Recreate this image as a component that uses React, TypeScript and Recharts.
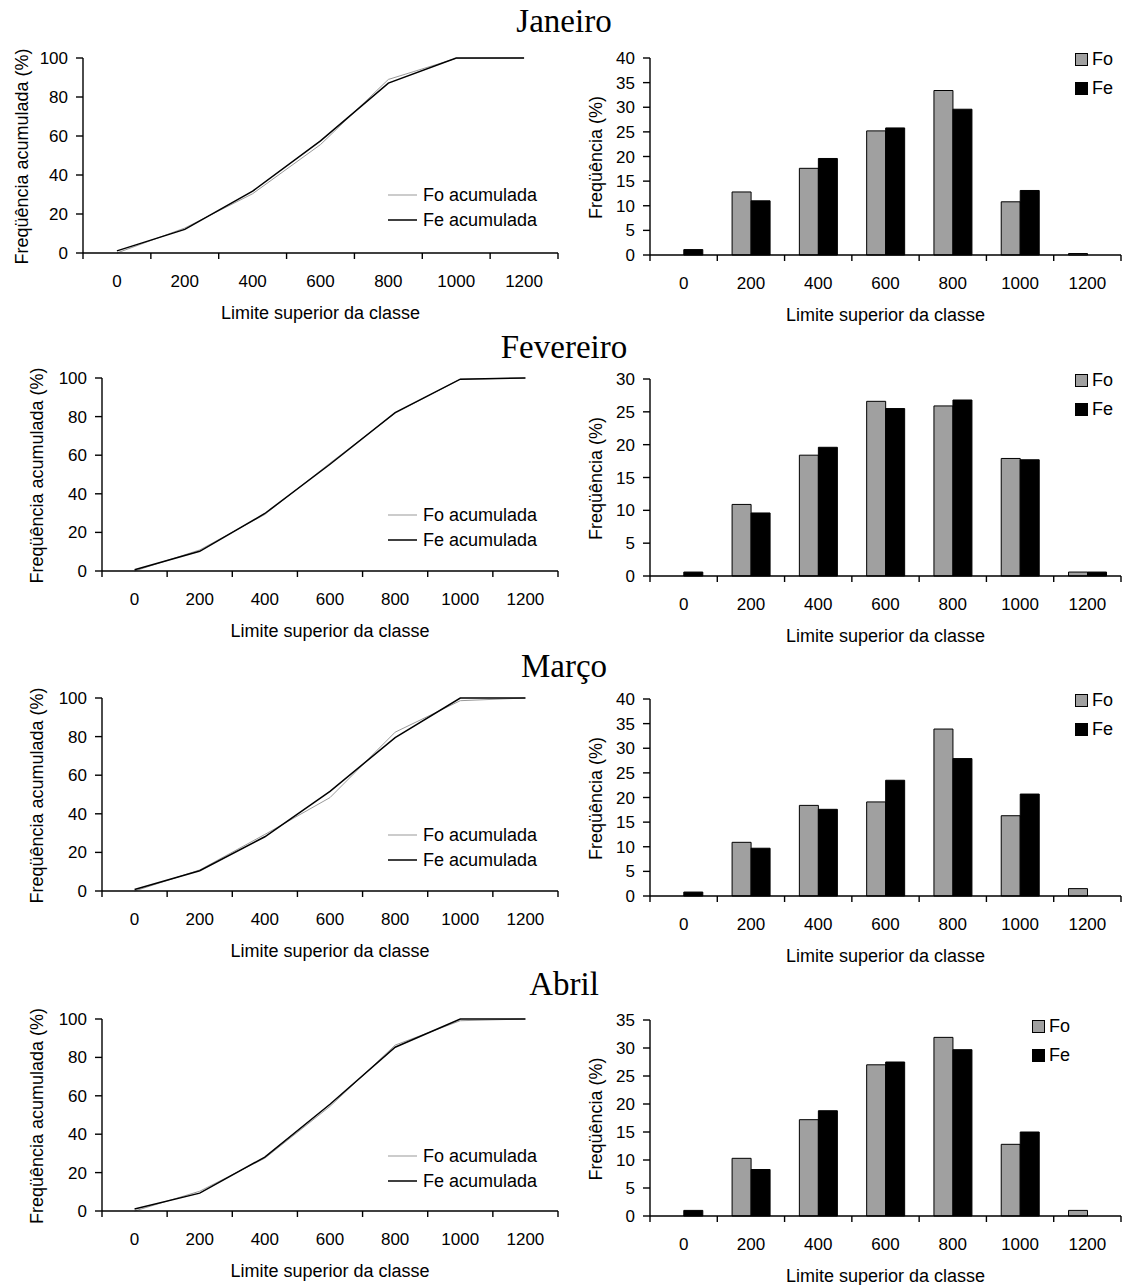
import React from 'react';
import { ComposedChart, Line, Bar, XAxis, YAxis, Legend } from 'recharts';

const CATS = ['0', '200', '400', '600', '800', '1000', '1200'];

// frequências por classe (%)
const janFo = [0, 12.8, 17.6, 25.2, 33.4, 10.8, 0.3];
const janFe = [1.1, 11.0, 19.6, 25.8, 29.6, 13.1, 0];
const fevFo = [0, 10.9, 18.4, 26.6, 25.9, 17.9, 0.6];
const fevFe = [0.6, 9.6, 19.6, 25.5, 26.8, 17.7, 0.6];
const marFo = [0, 10.9, 18.4, 19.1, 33.9, 16.3, 1.5];
const marFe = [0.8, 9.7, 17.6, 23.5, 27.9, 20.7, 0];
const abrFo = [0, 10.3, 17.2, 27.0, 31.9, 12.8, 1.0];
const abrFe = [1.0, 8.3, 18.8, 27.5, 29.7, 15.0, 0];

// frequências acumuladas (%)
const janFoAcum = [0, 12.8, 30.4, 55.6, 89.0, 99.8, 100];
const janFeAcum = [1.1, 12.1, 31.7, 57.5, 87.1, 100, 100];
const fevFoAcum = [0, 10.9, 29.3, 55.9, 81.8, 99.4, 100];
const fevFeAcum = [0.6, 10.2, 29.8, 55.3, 82.1, 99.4, 100];
const marFoAcum = [0, 10.9, 29.3, 48.4, 82.3, 98.6, 100];
const marFeAcum = [0.8, 10.5, 28.1, 51.6, 79.5, 100, 100];
const abrFoAcum = [0, 10.3, 27.5, 54.5, 86.4, 99.1, 100];
const abrFeAcum = [1.0, 9.3, 28.1, 55.6, 85.3, 100, 100];

const TICKS_100 = [0, 20, 40, 60, 80, 100];
const TICKS_40 = [0, 5, 10, 15, 20, 25, 30, 35, 40];
const TICKS_35 = [0, 5, 10, 15, 20, 25, 30, 35];
const TICKS_30 = [0, 5, 10, 15, 20, 25, 30];

const MONTHS = ['Janeiro', 'Fevereiro', 'Março', 'Abril'];

const FONT = '"Liberation Sans", Arial, sans-serif';
const SERIF = '"Liberation Serif", "Times New Roman", serif';
const MT = 10;
const XH = 72;
const AXIS = { stroke: '#000', strokeWidth: 1.4 };

const makeTick = (bw: number, n: number) => (props: any) => {
  const { x, y, payload } = props;
  const i = payload?.index ?? props.index;
  return (
    <g>
      <line x1={x - bw / 2} x2={x - bw / 2} y1={y} y2={y + 6} stroke="#000" strokeWidth={1.4} />
      {i === n - 1 && (
        <line x1={x + bw / 2} x2={x + bw / 2} y1={y} y2={y + 6} stroke="#000" strokeWidth={1.4} />
      )}
      <text x={x} y={y + 34} textAnchor="middle" fontSize={17} fill="#000" fontFamily={FONT}>
        {payload.value}
      </text>
    </g>
  );
};

const yTitle = (text: string, x: number, y: number) => () => (
  <text
    x={x}
    y={y}
    transform={`rotate(-90 ${x} ${y})`}
    textAnchor="middle"
    dominantBaseline="central"
    fontSize={18}
    fill="#000"
    fontFamily={FONT}
  >
    {text}
  </text>
);

const xTitle = (x: number, y: number) => () => (
  <text x={x} y={y} textAnchor="middle" fontSize={18} fill="#000" fontFamily={FONT}>
    Limite superior da classe
  </text>
);

const LineLegend = () => (
  <div style={{ fontFamily: FONT, fontSize: 18, color: '#000' }}>
    {[
      { t: 'Fo acumulada', c: '#999', w: 1 },
      { t: 'Fe acumulada', c: '#000', w: 1.5 },
    ].map((r) => (
      <div key={r.t} style={{ display: 'flex', alignItems: 'center', height: 25 }}>
        <svg width={29} height={4}>
          <line x1={0} x2={29} y1={2} y2={2} stroke={r.c} strokeWidth={r.w} />
        </svg>
        <span style={{ marginLeft: 6, lineHeight: '25px', whiteSpace: 'nowrap' }}>{r.t}</span>
      </div>
    ))}
  </div>
);

const BarLegend = () => (
  <div style={{ fontFamily: FONT, fontSize: 18, color: '#000' }}>
    {[
      { t: 'Fo', c: '#a0a0a0' },
      { t: 'Fe', c: '#000' },
    ].map((r) => (
      <div key={r.t} style={{ display: 'flex', alignItems: 'center', height: 29 }}>
        <div style={{ width: 11, height: 11, background: r.c, border: '1px solid #000' }} />
        <span style={{ marginLeft: 4, lineHeight: '29px' }}>{r.t}</span>
      </div>
    ))}
  </div>
);

const LINE_LAYOUT = [
  { plotTop: 58, plotBottom: 253, axisX: 83, yLabelX: 22 },
  { plotTop: 378, plotBottom: 571, axisX: 102, yLabelX: 37 },
  { plotTop: 698, plotBottom: 891, axisX: 102, yLabelX: 37 },
  { plotTop: 1019, plotBottom: 1211, axisX: 102, yLabelX: 37 },
];

const BAR_LAYOUT = [
  { plotTop: 58, plotBottom: 255, legLeft: 511, legDy: 1 },
  { plotTop: 379, plotBottom: 576, legLeft: 511, legDy: 1 },
  { plotTop: 699, plotBottom: 896, legLeft: 511, legDy: 1 },
  { plotTop: 1020, plotBottom: 1216, legLeft: 468, legDy: 6 },
];

const TITLE_TOPS = [5, 331, 650, 968];

const CumChart = ({ fo, fe, lay }: any) => {
  const W = 564;
  const plotRight = 558;
  const plotH = lay.plotBottom - lay.plotTop;
  const bw = (plotRight - lay.axisX) / CATS.length;
  const data = CATS.map((c, i) => ({ cat: c, fo: fo[i], fe: fe[i] }));
  return (
    <div style={{ position: 'absolute', left: 0, top: lay.plotTop - MT }}>
      <ComposedChart
        width={W}
        height={MT + plotH + XH}
        data={data}
        margin={{ top: MT, right: W - plotRight, bottom: 0, left: 0 }}
      >
        <XAxis
          dataKey="cat"
          scale="band"
          interval={0}
          height={XH}
          tickSize={0}
          tickMargin={0}
          tickLine={false}
          axisLine={AXIS}
          tick={makeTick(bw, CATS.length)}
          label={xTitle((lay.axisX + plotRight) / 2, MT + plotH + 66)}
        />
        <YAxis
          width={lay.axisX}
          domain={[0, 100]}
          ticks={TICKS_100}
          interval={0}
          tickSize={7}
          tickMargin={8}
          axisLine={AXIS}
          tickLine={{ stroke: '#000', strokeWidth: 1.4 }}
          tick={{ fontSize: 17, fill: '#000', fontFamily: FONT }}
          label={yTitle('Freqüência acumulada (%)', lay.yLabelX, MT + plotH / 2 + 1)}
        />
        <Line type="linear" dataKey="fo" stroke="#999" strokeWidth={1} dot={false} isAnimationActive={false} />
        <Line type="linear" dataKey="fe" stroke="#000" strokeWidth={1.5} dot={false} isAnimationActive={false} />
        <Legend
          layout="horizontal"
          verticalAlign="middle"
          align="center"
          wrapperStyle={{ left: 388, top: MT + 137 - 12.5, width: 170 }}
          content={LineLegend}
        />
      </ComposedChart>
    </div>
  );
};

const FreqChart = ({ fo, fe, yTicks, lay }: any) => {
  const W = 564;
  const plotLeft = 86;
  const plotRight = 557;
  const plotH = lay.plotBottom - lay.plotTop;
  const bw = (plotRight - plotLeft) / CATS.length;
  const data = CATS.map((c, i) => ({ cat: c, fo: fo[i], fe: fe[i] }));
  return (
    <div style={{ position: 'absolute', left: 564, top: lay.plotTop - MT }}>
      <ComposedChart
        width={W}
        height={MT + plotH + XH}
        data={data}
        barCategoryGap="22%"
        barGap={0}
        margin={{ top: MT, right: W - plotRight, bottom: 0, left: 0 }}
      >
        <XAxis
          dataKey="cat"
          interval={0}
          height={XH}
          tickSize={0}
          tickMargin={0}
          tickLine={false}
          axisLine={AXIS}
          tick={makeTick(bw, CATS.length)}
          label={xTitle((plotLeft + plotRight) / 2, MT + plotH + 66)}
        />
        <YAxis
          width={plotLeft}
          domain={[0, yTicks[yTicks.length - 1]]}
          ticks={yTicks}
          interval={0}
          tickSize={7}
          tickMargin={8}
          axisLine={AXIS}
          tickLine={{ stroke: '#000', strokeWidth: 1.4 }}
          tick={{ fontSize: 17, fill: '#000', fontFamily: FONT }}
          label={yTitle('Freqüência (%)', 32, MT + plotH / 2 + 1)}
        />
        <Bar dataKey="fo" fill="#a0a0a0" stroke="#000" strokeWidth={1} isAnimationActive={false} />
        <Bar dataKey="fe" fill="#000" stroke="#000" strokeWidth={1} isAnimationActive={false} />
        <Legend
          layout="horizontal"
          verticalAlign="middle"
          align="center"
          wrapperStyle={{ left: lay.legLeft, top: MT + lay.legDy - 14.5, width: 60 }}
          content={BarLegend}
        />
      </ComposedChart>
    </div>
  );
};

const App = () => {
  const cum = [
    [janFoAcum, janFeAcum],
    [fevFoAcum, fevFeAcum],
    [marFoAcum, marFeAcum],
    [abrFoAcum, abrFeAcum],
  ];
  const freq = [
    [janFo, janFe, TICKS_40],
    [fevFo, fevFe, TICKS_30],
    [marFo, marFe, TICKS_40],
    [abrFo, abrFe, TICKS_35],
  ];
  return (
    <div style={{ position: 'absolute', left: 0, top: 0, width: 1128, height: 1285, background: '#fff' }}>
      {MONTHS.map((m, i) => (
        <React.Fragment key={m}>
          <div
            style={{
              position: 'absolute',
              left: 0,
              top: TITLE_TOPS[i],
              width: 1128,
              textAlign: 'center',
              fontFamily: SERIF,
              fontSize: 33,
              lineHeight: '33px',
              color: '#000',
            }}
          >
            {m}
          </div>
          <CumChart fo={cum[i][0]} fe={cum[i][1]} lay={LINE_LAYOUT[i]} />
          <FreqChart fo={freq[i][0]} fe={freq[i][1]} yTicks={freq[i][2]} lay={BAR_LAYOUT[i]} />
        </React.Fragment>
      ))}
    </div>
  );
};

export default App;
